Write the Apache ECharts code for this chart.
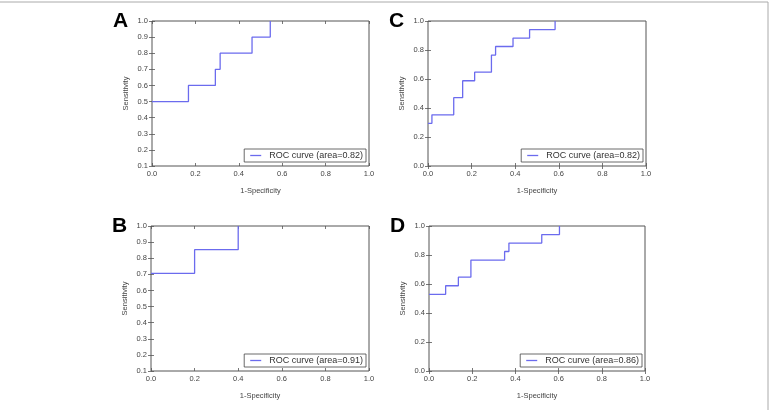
<!DOCTYPE html>
<html>
<head>
<meta charset="utf-8">
<script src="https://cdn.jsdelivr.net/npm/echarts@6/dist/echarts.min.js"></script>
<style>
  html, body { margin: 0; padding: 0; background: #fff; }
  #chart { width: 770px; height: 410px; }
</style>
</head>
<body>
<div id="chart"></div>
<script>
// ROC curves, step points [1-specificity, sensitivity]
const rocA = [[0, 0.5], [0.168, 0.5], [0.168, 0.6], [0.292, 0.6], [0.292, 0.7], [0.314, 0.7], [0.314, 0.8], [0.461, 0.8], [0.461, 0.9], [0.545, 0.9], [0.545, 1.0]]
const rocB = [[0, 0.706], [0.2, 0.706], [0.2, 0.853], [0.4, 0.853], [0.4, 1.0]]
const rocC = [[0, 0.294], [0.018, 0.294], [0.018, 0.353], [0.118, 0.353], [0.118, 0.471], [0.159, 0.471], [0.159, 0.588], [0.214, 0.588], [0.214, 0.647], [0.291, 0.647], [0.291, 0.765], [0.31, 0.765], [0.31, 0.824], [0.39, 0.824], [0.39, 0.882], [0.466, 0.882], [0.466, 0.941], [0.583, 0.941], [0.583, 1.0]]
const rocD = [[0, 0.529], [0.077, 0.529], [0.077, 0.588], [0.136, 0.588], [0.136, 0.647], [0.194, 0.647], [0.194, 0.765], [0.35, 0.765], [0.35, 0.824], [0.37, 0.824], [0.37, 0.882], [0.522, 0.882], [0.522, 0.941], [0.604, 0.941], [0.604, 1.0]]

const panelLetters = ['A', 'C', 'B', 'D']
const legendNames = ['ROC curve (area=0.82)', 'ROC curve (area=0.82)', 'ROC curve (area=0.91)', 'ROC curve (area=0.86)']
const curves = [rocA, rocC, rocB, rocD]
const yMins = [0.1, 0, 0.1, 0]
const yIntervals = [0.1, 0.2, 0.1, 0.2]

const grids = [
  { left: 152, top: 21, width: 217, height: 145 },
  { left: 428, top: 21, width: 218, height: 145 },
  { left: 151, top: 226, width: 218, height: 145 },
  { left: 429, top: 226, width: 216, height: 145 },
]

const lineColor = '#6b6bee'
const axisColor = '#555'
const font = 'Liberation Sans, Arial, sans-serif'

const myChart = echarts.init(document.getElementById('chart'))

const xAxes = []
const yAxes = []
const series = []
const legends = []
const graphics = []

grids.forEach((g, i) => {
  const tickStyle = { show: true, inside: true, length: 3, lineStyle: { color: axisColor, width: 0.8 } }
  // main axes
  xAxes.push({
    gridIndex: i, type: 'value', min: 0, max: 1, interval: 0.2,
    axisLine: { show: false }, axisTick: tickStyle, splitLine: { show: false },
    axisLabel: { fontSize: 7.5, color: '#444', fontFamily: font, margin: 4, formatter: v => v.toFixed(1) },
    name: '1-Specificity', nameLocation: 'middle', nameGap: 21,
    nameTextStyle: { fontSize: 7.5, color: '#444', fontFamily: font },
  })
  xAxes.push({
    gridIndex: i, type: 'value', min: 0, max: 1, interval: 0.2, position: 'top',
    axisLine: { show: false }, axisTick: tickStyle, axisLabel: { show: false }, splitLine: { show: false },
  })
  yAxes.push({
    gridIndex: i, type: 'value', min: yMins[i], max: 1, interval: yIntervals[i],
    axisLine: { show: false }, axisTick: tickStyle, splitLine: { show: false },
    axisLabel: { fontSize: 7.5, color: '#444', fontFamily: font, margin: 4, formatter: v => v.toFixed(1) },
    name: 'Sensitivity', nameLocation: 'middle', nameGap: 22,
    nameTextStyle: { fontSize: 7.5, color: '#444', fontFamily: font },
  })
  yAxes.push({
    gridIndex: i, type: 'value', min: yMins[i], max: 1, interval: yIntervals[i], position: 'right',
    axisLine: { show: false }, axisTick: tickStyle, axisLabel: { show: false }, splitLine: { show: false },
  })
  series.push({
    name: legendNames[i], type: 'line', xAxisIndex: i * 2, yAxisIndex: i * 2,
    data: curves[i], symbol: 'none', silent: true, animation: false,
    lineStyle: { color: lineColor, width: 1.3 }, itemStyle: { color: lineColor },
  })
  legends.push({
    data: [legendNames[i]],
    right: 770 - (g.left + g.width) + 3,
    top: g.top + g.height - 17,
    orient: 'horizontal',
    borderColor: '#444', borderWidth: 0.8, borderRadius: 0,
    padding: [2, 3, 2, 6],
    icon: 'rect',
    itemWidth: 11, itemHeight: 1.3, itemGap: 0,
    itemStyle: { color: lineColor },
    selectedMode: false,
    textStyle: { fontSize: 9, color: '#333', fontFamily: font, padding: [0, 0, 0, 3] },
  })
  graphics.push({
    type: 'text',
    left: g.left - 39, top: g.top - 10,
    style: { text: panelLetters[i], fontSize: 21, fontWeight: 'bold', fontFamily: font, fill: '#000' },
  })
})

const option = {
  backgroundColor: '#fff',
  animation: false,
  grid: grids.map(g => Object.assign({ show: true, borderColor: axisColor, borderWidth: 1, backgroundColor: 'transparent' }, g)),
  xAxis: xAxes,
  yAxis: yAxes,
  legend: legends,
  series: series,
  graphic: graphics.concat([
    { type: 'line', shape: { x1: 0, y1: 2, x2: 768, y2: 2 }, style: { stroke: '#aaa', lineWidth: 1 } },
    { type: 'line', shape: { x1: 768, y1: 2, x2: 768, y2: 410 }, style: { stroke: '#aaa', lineWidth: 1 } },
  ]),
}
myChart.setOption(option)
</script>
</body>
</html>
